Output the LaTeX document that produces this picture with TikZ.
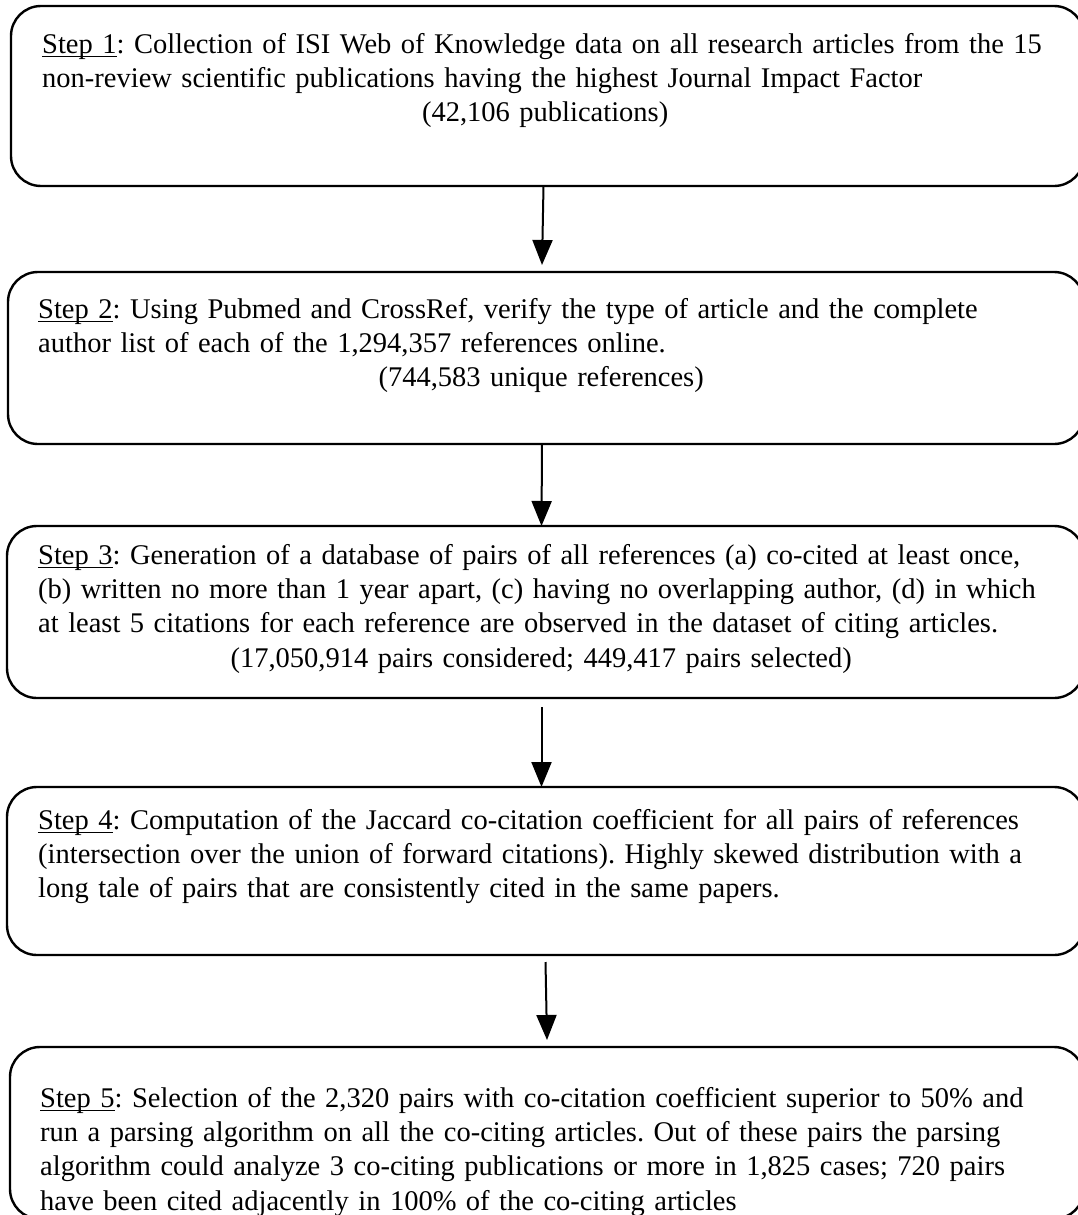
\documentclass[tikz,border=0pt]{standalone}
\usepackage{fontspec}
\setmainfont{Liberation Serif}
\usetikzlibrary{arrows.meta}
\newcommand\stepul[1]{\setbox0\hbox{#1}\rlap{\rule[-4pt]{\wd0}{1.5pt}}\box0}
\tikzset{
  stepbox/.style={draw, line width=2.4pt, rounded corners=30pt, anchor=north west, inner sep=0pt, outer sep=0pt},
  steptext/.style={anchor=north west, inner sep=0pt, text width=1006pt, align=left, font=\fontsize{28.5}{34.3}\selectfont\frenchspacing},
  flow/.style={line width=2pt, -{Triangle[width=20pt,length=25pt]}}
}
\begin{document}
\begin{tikzpicture}[x=1pt,y=-1pt]
\useasboundingbox (0,0) rectangle (1078,1215);
\node[stepbox, minimum width=1073pt, minimum height=180pt] (b1) at (11,6) {};
\node[stepbox, minimum width=1076pt, minimum height=172pt] (b2) at (8,272) {};
\node[stepbox, minimum width=1077pt, minimum height=172pt] (b3) at (7,526) {};
\node[stepbox, minimum width=1077pt, minimum height=168pt] (b4) at (7,787) {};
\node[stepbox, minimum width=1074pt, minimum height=172pt] (b5) at (10,1047) {};

\node[steptext] (t1) at (42,33) {\stepul{Step 1}: Collection of ISI Web of Knowledge data on all research articles from the 15\\
non-review scientific publications having the highest Journal Impact Factor\par
\hbox to\hsize{\hfil(42,106 publications)\hfil}};
\node[steptext] (t2) at (38,298) {\stepul{Step 2}: Using Pubmed and CrossRef, verify the type of article and the complete\\
author list of each of the 1,294,357 references online.\par
\hbox to\hsize{\hfil(744,583 unique references)\hfil}};
\node[steptext] (t3) at (38,544) {\stepul{Step 3}: Generation of a database of pairs of all references (a) co-cited at least once,\\
(b) written no more than 1 year apart, (c) having no overlapping author, (d) in which\\
at least 5 citations for each reference are observed in the dataset of citing articles.\par
\hbox to\hsize{\hfil(17,050,914 pairs considered; 449,417 pairs selected)\hfil}};
\node[steptext] (t4) at (38,809) {\stepul{Step 4}: Computation of the Jaccard co-citation coefficient for all pairs of references\\
(intersection over the union of forward citations). Highly skewed distribution with a\\
long tale of pairs that are consistently cited in the same papers.};
\node[steptext] (t5) at (40,1087) {\stepul{Step 5}: Selection of the 2,320 pairs with co-citation coefficient superior to 50\% and\\
run a parsing algorithm on all the co-citing articles. Out of these pairs the parsing\\
algorithm could analyze 3 co-citing publications or more in 1,825 cases; 720 pairs\\
have been cited adjacently in 100\% of the co-citing articles};

\draw[flow] ([xshift=-4pt]b1.south) -- ([xshift=-4pt,yshift=7pt]b2.north);
\draw[flow] ([xshift=-4pt]b2.south) -- ([xshift=-4pt]b3.north);
\draw[flow] ([xshift=-4pt,yshift=-9pt]b3.south) -- ([xshift=-4pt]b4.north);
\draw[flow] ([xshift=0pt,yshift=-7pt]b4.south) -- ([xshift=0pt,yshift=7pt]b5.north);
\end{tikzpicture}
\end{document}
